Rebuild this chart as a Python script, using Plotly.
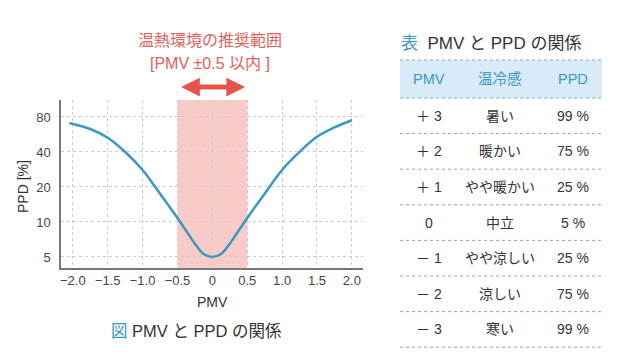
import plotly.graph_objects as go

# ---- data ----
pmv_curve = [-2.05, -1.75, -1.5, -1.25, -1.0, -0.75, -0.625, -0.5, -0.375, -0.25, -0.125, 0.0,
             0.125, 0.25, 0.375, 0.5, 0.625, 0.75, 1.0, 1.25, 1.5, 1.75, 2.0]
ppd_curve = [71, 63, 53, 40, 28, 17.5, 13.8, 10.8, 8.4, 6.5, 5.3, 5,
             5.3, 6.5, 8.4, 10.8, 13.8, 17.5, 28, 40, 54, 65, 75]

x_tickvals = [-2.0, -1.5, -1.0, -0.5, 0, 0.5, 1.0, 1.5, 2.0]
x_ticktext = ["−2.0", "−1.5", "−1.0", "−0.5", "0", "0.5", "1.0", "1.5", "2.0"]
y_tickvals = [5, 10, 20, 40, 80]
y_ticktext = ["5", "10", "20", "40", "80"]

range_low, range_high = -0.5, 0.5

table_header = ["PMV", "温冷感", "PPD"]
table_pmv = ["＋ 3", "＋ 2", "＋ 1", "0", "－ 1", "－ 2", "－ 3"]
table_feel = ["暑い", "暖かい", "やや暖かい", "中立", "やや涼しい", "涼しい", "寒い"]
table_ppd = ["99 %", "75 %", "25 %", "5 %", "25 %", "75 %", "99 %"]

# ---- styling ----
OFF = 8  # page body margin
W, H = 640 - 2 * OFF, 357 - 2 * OFF
FONT = "Liberation Sans, Noto Sans CJK JP, sans-serif"
TEAL = "#3a98c2"
RED = "#e2605a"
PINK = "rgb(248,203,200)"
TXT = "#333333"


def px(x):
    return (x - OFF) / W


def py(y):
    return 1 - (y - OFF) / H


def label(x, y, text, size=14, color=TXT, **kw):
    d = dict(xref="paper", yref="paper", x=px(x), y=py(y), text=text, showarrow=False,
             xanchor="center", yanchor="middle", font=dict(family=FONT, size=size, color=color))
    d.update(kw)
    return d


fig = go.Figure()
fig.add_trace(go.Scatter(
    x=pmv_curve, y=ppd_curve, mode="lines",
    line=dict(color=TEAL, width=2.5, shape="spline", smoothing=1.0),
    hoverinfo="skip", showlegend=False))

shapes = []
annotations = []

# recommended range band
shapes.append(dict(type="rect", xref="x", yref="y domain", x0=range_low, x1=range_high,
                   y0=0, y1=1, fillcolor=PINK, line=dict(width=0), layer="below"))

# double arrow
annotations.append(dict(xref="x", yref="paper", x=range_high - 0.03, y=py(87),
                        axref="x", ayref="pixel", ax=range_low + 0.03, ay=0,
                        showarrow=True, arrowhead=2, startarrowhead=2, arrowside="end+start",
                        arrowwidth=5, arrowsize=0.75, startarrowsize=0.75,
                        arrowcolor="#e8524c", text=""))

# range labels
annotations.append(label(210, 40, "温熱環境の推奨範囲", size=16, color=RED))
annotations.append(label(210, 64, "[PMV ±0.5 以内 ]", size=16, color=RED))

# axis titles
annotations.append(label(212, 302, "PMV", size=14))
annotations.append(label(23, 187, "PPD [%]", size=14, textangle=-90))

# figure caption
annotations.append(label(196, 331, f"<span style='color:{TEAL}'>図</span> PMV と PPD の関係", size=16.5))

# table title
annotations.append(label(399, 43, f"<span style='color:{TEAL}'>表</span>  PMV と PPD の関係",
                         size=17, xanchor="left"))

# table
tx0, tx1 = 400, 602
head_top, head_bot = 60, 98
row_h = 35.6
col_x = [429, 500, 573]

shapes.append(dict(type="rect", xref="paper", yref="paper", x0=px(tx0), x1=px(tx1),
                   y0=py(head_bot), y1=py(head_top), fillcolor="#d7ecf7", line=dict(width=0),
                   layer="below"))
line_ys = [head_top, head_bot] + [head_bot + row_h * (i + 1) for i in range(len(table_pmv))]
for ly in line_ys:
    shapes.append(dict(type="line", xref="paper", yref="paper", x0=px(tx0), x1=px(tx1),
                       y0=py(ly), y1=py(ly), line=dict(color="#8fa7b8", width=1, dash="dot")))

for cx, h in zip(col_x, table_header):
    annotations.append(label(cx, (head_top + head_bot) / 2, h, size=14.5, color=TEAL))

for i, (a, b, c) in enumerate(zip(table_pmv, table_feel, table_ppd)):
    cy = head_bot + row_h * (i + 0.5)
    for cx, t in zip(col_x, (a, b, c)):
        annotations.append(label(cx, cy, t, size=14))

fig.update_layout(
    width=W, height=H, autosize=False,
    margin=dict(l=0, r=0, t=0, b=0),
    paper_bgcolor="white", plot_bgcolor="white",
    showlegend=False,
    shapes=shapes, annotations=annotations,
    xaxis=dict(domain=[px(61), px(363)], range=[-2.17, 2.16],
               tickvals=x_tickvals, ticktext=x_ticktext,
               showgrid=True, gridcolor="#cccccc", griddash="dot", gridwidth=1,
               showline=True, linecolor="#777777", linewidth=1.5,
               zeroline=False, ticks="", automargin=False,
               tickfont=dict(family=FONT, size=13, color="#444444")),
    yaxis=dict(domain=[py(268), py(100)], type="log",
               range=[0.604, 2.049],
               tickvals=y_tickvals, ticktext=y_ticktext,
               showgrid=True, gridcolor="#cccccc", griddash="dot", gridwidth=1,
               showline=True, linecolor="#777777", linewidth=1.5,
               zeroline=False, ticks="", ticklabelstandoff=6, automargin=False,
               tickfont=dict(family=FONT, size=13, color="#444444")),
)

fig.write_html("out.html")
